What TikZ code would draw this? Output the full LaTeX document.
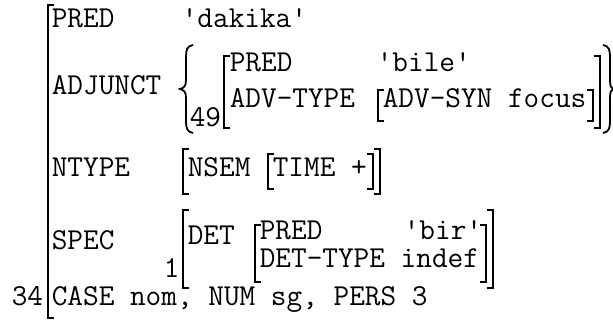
\documentclass[tikz,border=0pt]{standalone}
\usepackage{fontspec}

\begin{document}
\begin{tikzpicture}[x=0.5pt, y=-0.5pt, thick]
    % Styles
    \tikzstyle{feat} = [anchor=base west, inner sep=0pt, font=\ttfamily\fontsize{15.2}{18}\selectfont]
    \tikzstyle{index} = [feat]
    \tikzstyle{brk} = [line width=1pt]
    \tikzstyle{brace} = [line width=0.9pt]

    \useasboundingbox (0,0) rectangle (613,324);

    % Outer f-structure
    \node (Pred) [feat] at (51,28) {PRED};
    \node (PredVal) [feat] at (181,28) {'dakika'};
    \node (Adjunct) [feat] at (51,95) {ADJUNCT};
    \node (Ntype) [feat] at (51,177) {NTYPE};
    \node (Spec) [feat] at (51,250) {SPEC};
    \node (Case) [feat] at (51,306) {CASE nom, NUM sg, PERS 3};
    \node (Idx34) [index] at (11,306) {34};
    \draw [brk] (54,5) -| (48,318) -- (54,318);

    % Adjunct set
    \node (Idx49) [index] at (189,127) {49};
    \node (AdjPred) [feat] at (229,72) {PRED};
    \node (AdjPredVal) [feat] at (376,72) {'bile'};
    \node (AdvType) [feat] at (229,108) {ADV-TYPE};
    \node (AdvSyn) [feat] at (382,108) {ADV-SYN focus};
    \draw [brace] (193,45) .. controls (187,46) and (186,50) .. (186,57) -- (186,80)
        .. controls (186,86) and (184,88) .. (180,89) .. controls (184,90) and (186,92) .. (186,98)
        -- (186,121) .. controls (186,128) and (187,132) .. (193,133);
    \draw [brace] (603,45) .. controls (609,46) and (610,50) .. (610,57) -- (610,80)
        .. controls (610,86) and (611,88) .. (613,89) .. controls (611,90) and (610,92) .. (610,98)
        -- (610,121) .. controls (610,128) and (609,132) .. (603,133);
    \draw [brk] (230,56) -| (224,128) -- (230,128);
    \draw [brk] (594,56) -| (600,128) -- (594,128);
    \draw [brk] (384,90) -| (378,121) -- (384,121);
    \draw [brk] (587,90) -| (593,121) -- (587,121);

    % Ntype
    \node (Nsem) [feat] at (187,177) {NSEM};
    \node (Time) [feat] at (272,177) {TIME +};
    \draw [brk] (189,149) -| (183,194) -- (189,194);
    \draw [brk] (374,149) -| (380,194) -- (374,194);
    \draw [brk] (274,154) -| (268,189) -- (274,189);
    \draw [brk] (367,154) -| (373,189) -- (367,189);

    % Spec
    \node (Idx1) [index] at (163,278) {1};
    \node (Det) [feat] at (187,245) {DET};
    \node (DetPred) [feat] at (259,240) {PRED};
    \node (DetPredVal) [feat] at (403,240) {'bir'};
    \node (DetType) [feat] at (259,268) {DET-TYPE indef};
    \draw [brk] (189,210) -| (183,288) -- (189,288);
    \draw [brk] (487,210) -| (493,288) -- (487,288);
    \draw [brk] (261,225) -| (255,282) -- (261,282);
    \draw [brk] (480,225) -| (486,282) -- (480,282);

\end{tikzpicture}
\end{document}
